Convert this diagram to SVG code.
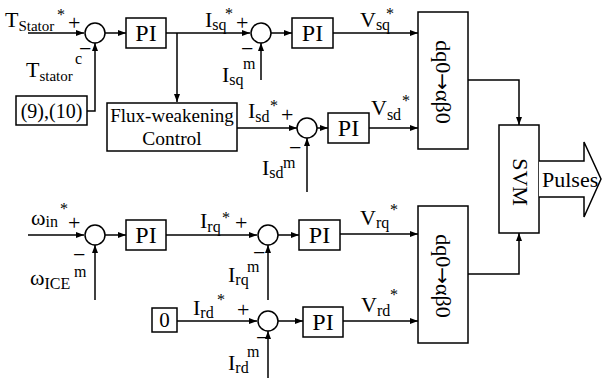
<svg xmlns="http://www.w3.org/2000/svg" width="602" height="380" viewBox="0 0 602 380" font-family="'Liberation Serif', 'Times New Roman', Tinos, serif">
<style>
text{font-family:'Liberation Serif','Times New Roman',Tinos,serif;fill:#000}
.m{font-size:22px}
.s{font-size:16px}
.p{font-size:24px;text-anchor:middle}
.c{text-anchor:middle}
.ar{font-family:'DejaVu Sans',sans-serif;font-size:20px}
.box{fill:#fff;stroke:#000;stroke-width:1.5}
.ln{fill:none;stroke:#000;stroke-width:1.5;marker-end:url(#a)}
</style>
<defs>
<marker id="a" markerUnits="userSpaceOnUse" markerWidth="8" markerHeight="6" refX="8" refY="3" orient="auto"><path d="M0,0L8,3L0,6z" fill="#000"/></marker>
</defs>
<g id="connectors">
<path class="ln" d="M28,33H84"/>
<path class="ln" d="M105,33H126"/>
<path class="ln" d="M166,33H250"/>
<path class="ln" d="M177,33V102"/>
<path class="ln" d="M87,111H95V43"/>
<path class="ln" d="M271,33H292"/>
<path class="ln" d="M333,33H418"/>
<path class="ln" d="M261,80V43"/>
<path class="ln" d="M237,128H297"/>
<path class="ln" d="M317,128H328"/>
<path class="ln" d="M369,128H418"/>
<path class="ln" d="M307,192V138"/>
<path class="ln" d="M468,80H519V125"/>
<path class="ln" d="M468,274H519V233"/>
<path class="ln" d="M28,235H84"/>
<path class="ln" d="M95,300V245"/>
<path class="ln" d="M105,235H126"/>
<path class="ln" d="M166,235H257"/>
<path class="ln" d="M278,235H299"/>
<path class="ln" d="M340,234H418"/>
<path class="ln" d="M268,300V245"/>
<path class="ln" d="M177,321H257"/>
<path class="ln" d="M278,321H303"/>
<path class="ln" d="M343,321H418"/>
<path class="ln" d="M268,378V331"/>
</g>
<g id="sum1"><circle class="box" cx="95" cy="33" r="10"/></g>
<g id="pi1"><rect class="box" x="126" y="18" width="40" height="30"/><text class="p" x="146" y="41">PI</text></g>
<g id="sum2"><circle class="box" cx="261" cy="33" r="10"/></g>
<g id="pi2"><rect class="box" x="292" y="18" width="41" height="30"/><text class="p" x="312.5" y="41">PI</text></g>
<g id="dq1"><rect class="box" x="418" y="12" width="50" height="137"/><text class="m c" transform="translate(436,82) rotate(90)">dq0<tspan class="ar">→</tspan>αβ0</text></g>
<g id="eq"><rect class="box" x="16" y="96" width="71" height="29"/><text class="c" style="font-size:20px" x="51.5" y="118">(9),(10)</text></g>
<g id="flux"><rect class="box" x="107" y="103" width="130" height="48"/><text class="c" style="font-size:19px" x="172" y="122">Flux-weakening</text><text class="c" style="font-size:19.5px" x="172" y="145">Control</text></g>
<g id="sum3"><circle class="box" cx="307" cy="128" r="10"/></g>
<g id="pi3"><rect class="box" x="328" y="113" width="41" height="30"/><text class="p" x="348.5" y="136">PI</text></g>
<g id="svm"><rect class="box" x="499" y="125" width="40" height="108"/><text class="m c" transform="translate(513,182) rotate(90)">SVM</text></g>
<g id="pulses"><path class="box" d="M539,161H584V142L601,179L584,217V197H539"/><text class="m" x="542" y="187">Pulses</text></g>
<g id="sum4"><circle class="box" cx="95" cy="235" r="10"/></g>
<g id="pi4"><rect class="box" x="126" y="220" width="40" height="30"/><text class="p" x="146" y="243">PI</text></g>
<g id="sum5"><circle class="box" cx="268" cy="235" r="10"/></g>
<g id="pi5"><rect class="box" x="299" y="220" width="41" height="30"/><text class="p" x="319.5" y="243">PI</text></g>
<g id="dq2"><rect class="box" x="418" y="206" width="50" height="137"/><text class="m c" transform="translate(436,276) rotate(90)">dq0<tspan class="ar">→</tspan>αβ0</text></g>
<g id="zero"><rect class="box" x="152" y="308" width="25" height="24"/><text class="c" style="font-size:21px" x="164.5" y="327">0</text></g>
<g id="sum6"><circle class="box" cx="268" cy="321" r="10"/></g>
<g id="pi6"><rect class="box" x="303" y="307" width="40" height="30"/><text class="p" x="323" y="330">PI</text></g>
<g id="labels">
<text class="m" x="5" y="27">T<tspan style="font-size:15px" dy="4">Stator</tspan></text>
<text class="s" x="57" y="20">*</text>
<text class="m" x="68" y="30">+</text>
<text class="m" x="26" y="77">T<tspan style="font-size:15px" dy="4">stator</tspan></text>
<text class="s" x="75" y="64">c</text>
<text class="m" x="79" y="56">−</text>
<text class="m" x="205" y="27">I<tspan class="s" dy="3">sq</tspan></text>
<text class="s" x="225" y="19">*</text>
<text class="m" x="236" y="30">+</text>
<text class="m" x="222" y="82">I<tspan class="s" dy="3">sq</tspan></text>
<text class="s" x="243" y="69">m</text>
<text class="m" x="241" y="56">−</text>
<text class="m" x="360" y="27">V<tspan class="s" dy="3">sq</tspan></text>
<text class="s" x="386" y="19">*</text>
<text class="m" x="248" y="118">I<tspan class="s" dy="4">sd</tspan></text>
<text class="s" x="270" y="111">*</text>
<text class="m" x="281" y="122">+</text>
<text class="m" x="262" y="175">I<tspan class="s" dy="3">sd</tspan></text>
<text class="s" x="283" y="168">m</text>
<text class="m" x="289" y="155">−</text>
<text class="m" x="371" y="115">V<tspan class="s" dy="5">sd</tspan></text>
<text class="s" x="402" y="106">*</text>
<text class="m" x="31" y="225">ω<tspan class="s" dy="2">in</tspan></text>
<text class="s" x="60" y="214">*</text>
<text class="m" x="68" y="230">+</text>
<text class="m" x="30" y="285">ω<tspan class="s" dy="4">ICE</tspan></text>
<text class="s" x="74" y="277">m</text>
<text class="m" x="73" y="262">−</text>
<text class="m" x="200" y="228">I<tspan class="s" dy="4">rq</tspan></text>
<text class="s" x="222" y="223">*</text>
<text class="m" x="235" y="230">+</text>
<text class="m" x="228" y="282">I<tspan class="s" dy="3">rq</tspan></text>
<text class="s" x="247" y="272">m</text>
<text class="m" x="253" y="260">−</text>
<text class="m" x="360" y="225">V<tspan class="s" dy="3">rq</tspan></text>
<text class="s" x="390" y="215">*</text>
<text class="m" x="193" y="315">I<tspan class="s" dy="3">rd</tspan></text>
<text class="s" x="217" y="305">*</text>
<text class="m" x="237" y="317">+</text>
<text class="m" x="228" y="370">I<tspan class="s" dy="3">rd</tspan></text>
<text class="s" x="247" y="357">m</text>
<text class="m" x="256" y="345">−</text>
<text class="m" x="361" y="312">V<tspan class="s" dy="4">rd</tspan></text>
<text class="s" x="390" y="300">*</text>
</g>
</svg>
